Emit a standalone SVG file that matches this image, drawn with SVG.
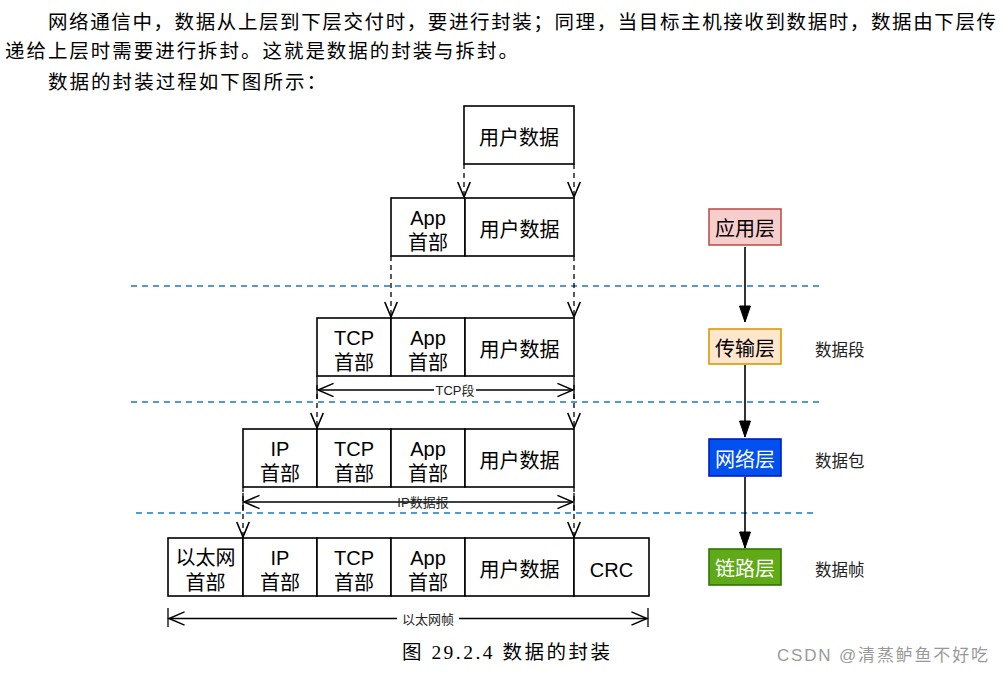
<svg xmlns="http://www.w3.org/2000/svg" width="1003" height="673" viewBox="0 0 1003 673">
<defs>
<style>
.para{font-family:"Liberation Serif","Noto Sans CJK SC",serif;font-size:19.5px;fill:#000}
.bt{font-family:"Liberation Sans","Noto Sans CJK SC",sans-serif;font-size:20px;fill:#000;text-anchor:middle}
.box{fill:#fff;stroke:#000;stroke-width:1.6}
.dash{fill:none;stroke:#000;stroke-width:1.3;stroke-dasharray:5 4}
.blue{fill:none;stroke:#1a7bc4;stroke-width:1.6;stroke-dasharray:6 5}
.dim{fill:none;stroke:#000;stroke-width:1.3}
.dl{font-family:"Liberation Sans","Noto Sans CJK SC",sans-serif;font-size:13px;fill:#222;text-anchor:middle}
.side{font-family:"Liberation Sans","Noto Sans CJK SC",sans-serif;font-size:16.5px;fill:#222}
.lt{font-family:"Liberation Sans","Noto Sans CJK SC",sans-serif;font-size:20px;text-anchor:middle}
</style>
<marker id="vopen" markerUnits="userSpaceOnUse" markerWidth="20" markerHeight="20" refX="0" refY="0" viewBox="-14 -8 16 16" orient="auto">
<path d="M-12,-5 L0,0 L-12,5" fill="none" stroke="#000" stroke-width="1.3"/>
</marker>
<marker id="dimarr" markerUnits="userSpaceOnUse" markerWidth="20" markerHeight="20" refX="0" refY="0" viewBox="-16 -8 18 16" orient="auto-start-reverse">
<path d="M-14,-6 L0,0 L-14,6" fill="none" stroke="#000" stroke-width="1.3"/>
</marker>
<marker id="block" markerUnits="userSpaceOnUse" markerWidth="20" markerHeight="20" refX="0" refY="0" viewBox="-18 -8 20 16" orient="auto">
<path d="M-16,-5.5 L0,0 L-16,5.5 Z" fill="#000" stroke="#000" stroke-width="1"/>
</marker>
</defs>
<rect width="1003" height="673" fill="#fff"/>

<g id="paragraph">
<text class="para" x="48" y="29" textLength="948" lengthAdjust="spacing">网络通信中，数据从上层到下层交付时，要进行封装；同理，当目标主机接收到数据时，数据由下层传</text>
<text class="para" x="5" y="58" textLength="513" lengthAdjust="spacing">递给上层时需要进行拆封。这就是数据的封装与拆封。</text>
<text class="para" x="48" y="89" textLength="278" lengthAdjust="spacing">数据的封装过程如下图所示：</text>
</g>

<g id="separators">
<line class="blue" x1="131" y1="286" x2="823" y2="286"/>
<line class="blue" x1="131" y1="402" x2="823" y2="402"/>
<line class="blue" x1="136" y1="513" x2="817" y2="513"/>
</g>

<g id="row1">
<rect class="box" x="464" y="106" width="110" height="58"/>
<text class="bt" x="519" y="145">用户数据</text>
</g>

<g id="row2">
<rect class="box" x="391" y="198" width="74" height="58"/>
<text class="bt" x="428" y="225">App</text>
<text class="bt" x="428" y="250">首部</text>
<rect class="box" x="465" y="198" width="109" height="58"/>
<text class="bt" x="519.5" y="237">用户数据</text>
</g>

<g id="row3">
<rect class="box" x="317" y="318" width="74" height="58"/>
<text class="bt" x="354" y="345">TCP</text>
<text class="bt" x="354" y="370">首部</text>
<rect class="box" x="391" y="318" width="74" height="58"/>
<text class="bt" x="428" y="345">App</text>
<text class="bt" x="428" y="370">首部</text>
<rect class="box" x="465" y="318" width="109" height="58"/>
<text class="bt" x="519.5" y="357">用户数据</text>
</g>

<g id="row4">
<rect class="box" x="243" y="429" width="74" height="58"/>
<text class="bt" x="280" y="456">IP</text>
<text class="bt" x="280" y="481">首部</text>
<rect class="box" x="317" y="429" width="74" height="58"/>
<text class="bt" x="354" y="456">TCP</text>
<text class="bt" x="354" y="481">首部</text>
<rect class="box" x="391" y="429" width="74" height="58"/>
<text class="bt" x="428" y="456">App</text>
<text class="bt" x="428" y="481">首部</text>
<rect class="box" x="465" y="429" width="109" height="58"/>
<text class="bt" x="519.5" y="468">用户数据</text>
</g>

<g id="row5">
<rect class="box" x="168" y="538" width="75" height="58"/>
<text class="bt" x="205.5" y="565">以太网</text>
<text class="bt" x="205.5" y="590">首部</text>
<rect class="box" x="243" y="538" width="74" height="58"/>
<text class="bt" x="280" y="565">IP</text>
<text class="bt" x="280" y="590">首部</text>
<rect class="box" x="317" y="538" width="74" height="58"/>
<text class="bt" x="354" y="565">TCP</text>
<text class="bt" x="354" y="590">首部</text>
<rect class="box" x="391" y="538" width="74" height="58"/>
<text class="bt" x="428" y="565">App</text>
<text class="bt" x="428" y="590">首部</text>
<rect class="box" x="465" y="538" width="109" height="58"/>
<text class="bt" x="519.5" y="577">用户数据</text>
<rect class="box" x="574" y="538" width="75" height="58"/>
<text class="bt" x="611.5" y="577">CRC</text>
</g>

<g id="connectors">
<line class="dash" x1="464" y1="164" x2="464" y2="197" marker-end="url(#vopen)"/>
<line class="dash" x1="574" y1="164" x2="574" y2="197" marker-end="url(#vopen)"/>
<line class="dash" x1="391" y1="256" x2="391" y2="317" marker-end="url(#vopen)"/>
<line class="dash" x1="574" y1="256" x2="574" y2="317" marker-end="url(#vopen)"/>
<line class="dash" x1="317" y1="376" x2="317" y2="428" marker-end="url(#vopen)"/>
<line class="dash" x1="574" y1="376" x2="574" y2="428" marker-end="url(#vopen)"/>
<line class="dash" x1="243" y1="487" x2="243" y2="537" marker-end="url(#vopen)"/>
<line class="dash" x1="574" y1="487" x2="574" y2="537" marker-end="url(#vopen)"/>
<line stroke="#000" stroke-width="1.6" x1="745" y1="247" x2="745" y2="322" marker-end="url(#block)"/>
<line stroke="#000" stroke-width="1.6" x1="745" y1="365" x2="745" y2="437" marker-end="url(#block)"/>
<line stroke="#000" stroke-width="1.6" x1="745" y1="477" x2="745" y2="548" marker-end="url(#block)"/>
</g>

<g id="dim-tcp">
<line class="dim" x1="318" y1="390" x2="573" y2="390" marker-start="url(#dimarr)" marker-end="url(#dimarr)"/>
<line class="dim" x1="317" y1="381" x2="317" y2="399"/>
<line class="dim" x1="574" y1="381" x2="574" y2="399"/>
<rect x="434" y="382" width="42" height="16" fill="#fff"/>
<text class="dl" x="455" y="395">TCP段</text>
</g>

<g id="dim-ip">
<line class="dim" x1="244" y1="502" x2="573" y2="502" marker-start="url(#dimarr)" marker-end="url(#dimarr)"/>
<line class="dim" x1="243" y1="493" x2="243" y2="511"/>
<line class="dim" x1="574" y1="493" x2="574" y2="511"/>
<text class="dl" x="423" y="507">IP数据报</text>
</g>

<g id="dim-eth">
<line class="dim" x1="169" y1="618.5" x2="647" y2="618.5" marker-start="url(#dimarr)" marker-end="url(#dimarr)"/>
<line class="dim" x1="168" y1="608" x2="168" y2="627"/>
<line class="dim" x1="648" y1="608" x2="648" y2="627"/>
<rect x="397" y="610" width="62" height="17" fill="#fff"/>
<text class="dl" x="428" y="623.5">以太网帧</text>
</g>

<g id="layer-app">
<rect x="709" y="209" width="72" height="36" fill="#f8cecc" stroke="#b85450" stroke-width="1.6"/>
<text class="lt" x="745" y="236" fill="#000">应用层</text>
</g>
<g id="layer-transport">
<rect x="709" y="329" width="72" height="35" fill="#ffe6cc" stroke="#d79b00" stroke-width="1.6"/>
<text class="lt" x="745" y="356" fill="#000">传输层</text>
<text class="side" x="815" y="356">数据段</text>
</g>
<g id="layer-network">
<rect x="709" y="439" width="72" height="37" fill="#0050ef" stroke="#001dbc" stroke-width="1.6"/>
<text class="lt" x="745" y="467" fill="#fff">网络层</text>
<text class="side" x="815" y="467">数据包</text>
</g>
<g id="layer-link">
<rect x="709" y="549" width="72" height="36" fill="#60a917" stroke="#2d7600" stroke-width="1.6"/>
<text class="lt" x="745" y="576" fill="#fff">链路层</text>
<text class="side" x="815" y="576">数据帧</text>
</g>

<g id="caption">
<text class="para" x="402" y="659" textLength="208" lengthAdjust="spacing">图  29.2.4  数据的封装</text>
</g>
<g id="watermark">
<text x="777" y="661" font-family="Liberation Sans, Noto Sans CJK SC, sans-serif" font-size="17" fill="#9a9a9a" textLength="211" lengthAdjust="spacing">CSDN @清蒸鲈鱼不好吃</text>
</g>
</svg>
